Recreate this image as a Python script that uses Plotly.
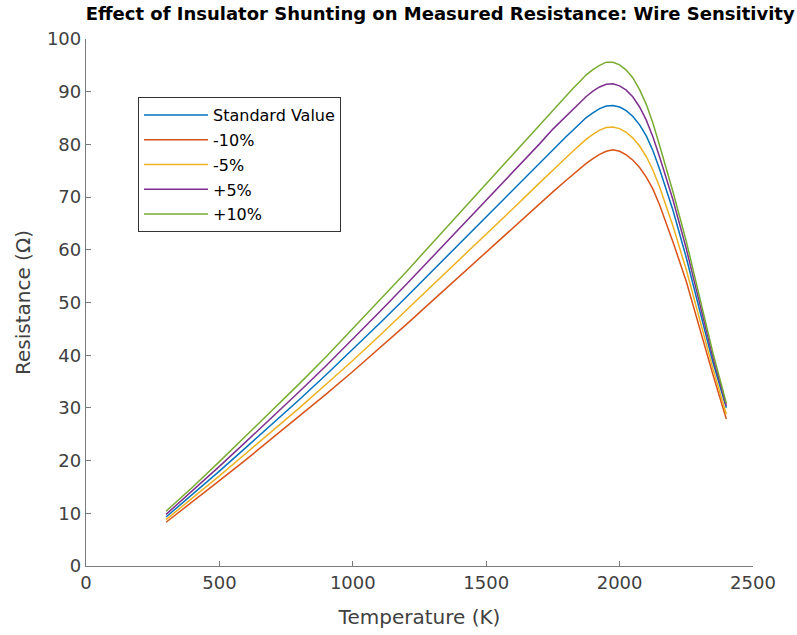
import plotly.graph_objects as go

temperature = [300, 400, 500, 600, 700, 800, 900, 1000, 1100, 1200, 1300, 1400, 1500, 1600,
               1700, 1750, 1800, 1825, 1850, 1875, 1900, 1925, 1950, 1975, 2000, 2025, 2050,
               2075, 2100, 2125, 2150, 2200, 2250, 2300, 2350, 2400]

standard = [9.3, 13.6, 18.0, 22.5, 27.0, 31.6, 36.3, 41.1, 46.0, 51.0, 56.1, 61.2, 66.3, 71.4,
            76.5, 79.1, 81.5, 82.7, 83.9, 85.1, 86.0, 86.8, 87.3, 87.4, 87.1, 86.4, 85.3,
            83.7, 81.6, 78.8, 75.3, 67.5, 58.5, 48.3, 38.6, 30.0]
minus10 = [8.3, 12.2, 16.2, 20.2, 24.3, 28.4, 32.6, 36.9, 41.3, 45.8, 50.4, 55.0, 59.5, 64.1,
           68.7, 71.0, 73.2, 74.3, 75.4, 76.4, 77.3, 78.1, 78.7, 79.0, 78.7, 78.0, 77.0,
           75.6, 73.8, 71.5, 68.5, 61.5, 54.0, 45.0, 36.3, 27.9]
minus5 = [8.8, 12.9, 17.1, 21.4, 25.7, 30.0, 34.5, 39.0, 43.7, 48.5, 53.3, 58.1, 63.0, 67.8,
          72.7, 75.2, 77.5, 78.7, 79.9, 81.0, 81.9, 82.7, 83.2, 83.3, 83.0, 82.3, 81.2,
          79.7, 77.7, 75.1, 71.9, 64.5, 56.2, 46.6, 37.4, 28.8]
plus5 = [9.8, 14.3, 18.9, 23.6, 28.3, 33.1, 38.0, 43.0, 48.2, 53.4, 58.7, 64.1, 69.4, 74.8,
         80.1, 82.9, 85.4, 86.7, 87.9, 89.1, 90.1, 90.9, 91.4, 91.5, 91.1, 90.3, 89.0,
         87.1, 84.6, 81.4, 77.6, 69.5, 60.2, 49.6, 39.5, 30.4]
plus10 = [10.4, 15.0, 19.8, 24.7, 29.6, 34.6, 39.7, 45.0, 50.4, 55.8, 61.4, 67.0, 72.6, 78.2,
          83.8, 86.6, 89.3, 90.6, 91.9, 93.2, 94.2, 95.0, 95.6, 95.6, 95.1, 94.1, 92.6,
          90.4, 87.6, 84.0, 79.8, 71.0, 61.6, 50.8, 40.4, 30.9]

series_names = ["Standard Value", "-10%", "-5%", "+5%", "+10%"]
series_values = [standard, minus10, minus5, plus5, plus10]
colors = ["#0072BD", "#D95319", "#EDB120", "#7E2F8E", "#77AC30"]

x_ticks = [0, 500, 1000, 1500, 2000, 2500]
y_ticks = [0, 10, 20, 30, 40, 50, 60, 70, 80, 90, 100]

FONT = "DejaVu Sans, Liberation Sans, Arial"

fig = go.Figure()
for i, (name, vals, col) in enumerate(zip(series_names, series_values, colors)):
    fig.add_trace(go.Scatter(x=temperature, y=vals, mode="lines", name=name,
                             legendgroup=f"g{i}",
                             line=dict(color=col, width=1.5)))

axis_common = dict(showline=True, linecolor="#7a7a7a", linewidth=1.3, mirror=False,
                   ticks="inside", ticklen=5, tickwidth=1.3, tickcolor="#7a7a7a",
                   showgrid=False, zeroline=False, automargin=False,
                   tickfont=dict(family=FONT, size=18, color="#404040"))

fig.update_layout(
    width=797, height=635,
    margin=dict(l=86, r=44, t=39, b=69),
    plot_bgcolor="white", paper_bgcolor="white",
    title=dict(text="<b>Effect of Insulator Shunting on Measured Resistance: Wire Sensitivity</b>",
               x=0.531, xref="paper", xanchor="center",
               y=1 - 14 / 635, yref="container", yanchor="middle",
               font=dict(family=FONT, size=18, color="#000000")),
    xaxis=dict(range=[0, 2500], tickvals=x_ticks,
               title=dict(text="Temperature (K)", standoff=18,
                          font=dict(family=FONT, size=20, color="#404040")),
               **axis_common),
    yaxis=dict(range=[0, 100], tickvals=y_ticks,
               title=dict(text="Resistance (Ω)", standoff=10,
                          font=dict(family=FONT, size=20, color="#404040")),
               **axis_common),
    legend=dict(x=(138 - 86) / 667, y=1 - (97 - 39) / 527, xanchor="left", yanchor="top",
                bgcolor="white", bordercolor="#333333", borderwidth=1,
                tracegroupgap=1, itemwidth=64,
                font=dict(family=FONT, size=16, color="#000000")),
    showlegend=True,
)

fig.write_html("out.html")
